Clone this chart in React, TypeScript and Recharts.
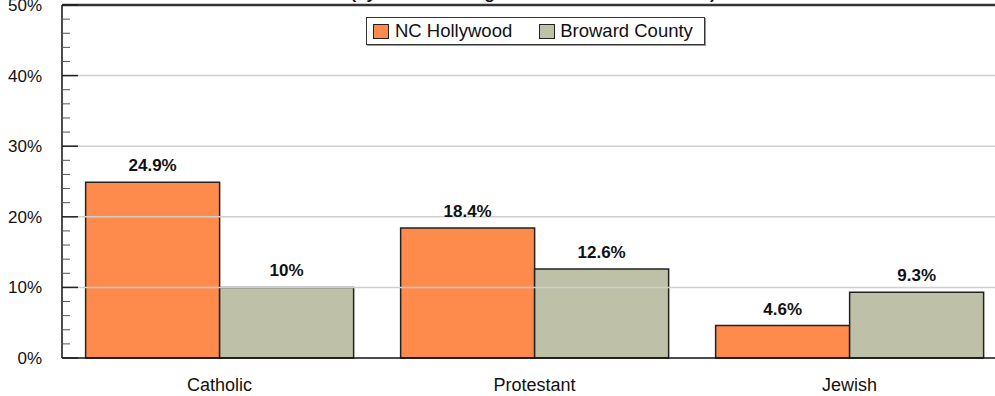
import {
  BarChart,
  Bar,
  XAxis,
  YAxis,
  ReferenceLine,
  LabelList,
} from "recharts";

const categories = ["Catholic", "Protestant", "Jewish"];
const ncHollywood = [24.9, 18.4, 4.6];
const browardCounty = [10, 12.6, 9.3];
const seriesNames = ["NC Hollywood", "Broward County"];
const majorTicks = [0, 10, 20, 30, 40, 50];
const allTicks = [0, 2, 4, 6, 8, 10, 12, 14, 16, 18, 20, 22, 24, 26, 28, 30, 32, 34, 36, 38, 40, 42, 44, 46, 48, 50];
const title = "(by Share of Religious Adherents in the Area)";

const ORANGE = "#fe8a4c";
const GRAY = "#bfc0a8";
const FONT = "'Liberation Sans', Arial, sans-serif";

const chartData = categories.map((name, i) => ({
  name,
  nc: ncHollywood[i],
  broward: browardCounty[i],
}));

// y ticks drawn inwards: long ones at every 10%, short ones every 2%
const YTick = (props: any) => {
  const { x, y, payload } = props;
  const isMajor = majorTicks.includes(payload.value);
  return (
    <g>
      <line
        x1={x}
        x2={x + (isMajor ? 16 : 8)}
        y1={y}
        y2={y}
        stroke={isMajor ? "#222" : "#555"}
        strokeWidth={isMajor ? 1.5 : 1}
      />
      {isMajor && (
        <text x={x - 20} y={y} dy="0.35em" textAnchor="end" fontSize={17} fill="#111" fontFamily={FONT}>
          {payload.value}%
        </text>
      )}
    </g>
  );
};

const LegendBox = () => (
  <div
    style={{
      position: "absolute",
      top: 17,
      left: 366,
      display: "flex",
      alignItems: "center",
      height: 26,
      border: "1px solid #333",
      background: "#fff",
      padding: "0 11px 0 6px",
      fontFamily: FONT,
      fontSize: 18.5,
      color: "#111",
      boxShadow: "1px 1px 0 #999",
      whiteSpace: "nowrap",
    }}
  >
    {seriesNames.map((s, i) => (
      <span key={s} style={{ display: "flex", alignItems: "center", marginRight: i === 0 ? 27 : 0 }}>
        <span
          style={{
            width: 14,
            height: 13,
            background: i === 0 ? ORANGE : GRAY,
            border: "1.5px solid #222",
            marginRight: i === 0 ? 6 : 5,
            display: "inline-block",
          }}
        />
        {s}
      </span>
    ))}
  </div>
);

export default function App() {
  return (
    <div
      style={{
        position: "fixed",
        left: 0,
        top: 0,
        width: 995,
        height: 396,
        overflow: "hidden",
        background: "#fff",
      }}
    >
      <div
        style={{
          position: "absolute",
          top: -16,
          left: 0,
          width: 1066,
          textAlign: "center",
          fontFamily: FONT,
          fontSize: 17,
          fontWeight: "bold",
          color: "#111",
        }}
      >
        {title}
      </div>
      <BarChart
        width={1010}
        height={396}
        data={chartData}
        margin={{ top: 5, right: 3, bottom: 0, left: 0 }}
        barGap={0}
        barCategoryGap="7.5%"
      >
        <XAxis
          dataKey="name"
          height={38}
          tickLine={false}
          tickSize={0}
          tickMargin={20}
          axisLine={{ stroke: "#111", strokeWidth: 1.5 }}
          tick={{ fontSize: 18, fill: "#111", fontFamily: FONT }}
        />
        <YAxis
          width={62}
          domain={[0, 50]}
          ticks={allTicks}
          interval={0}
          tickLine={false}
          tickSize={0}
          tickMargin={0}
          axisLine={{ stroke: "#111", strokeWidth: 1.5 }}
          tick={<YTick />}
        />
        {[10, 20, 30, 40].map((v) => (
          <ReferenceLine key={v} y={v} stroke="#cfcfcf" strokeWidth={1.5} />
        ))}
        <ReferenceLine y={50} stroke="#333" strokeWidth={2.5} />
        <Bar dataKey="nc" name={seriesNames[0]} fill={ORANGE} stroke="#222" strokeWidth={1.5} isAnimationActive={false}>
          <LabelList
            dataKey="nc"
            position="top"
            offset={11}
            formatter={(v: any) => `${v}%`}
            style={{ fontSize: 17, fontWeight: "bold", fill: "#111", fontFamily: FONT }}
          />
        </Bar>
        <Bar dataKey="broward" name={seriesNames[1]} fill={GRAY} stroke="#222" strokeWidth={1.5} isAnimationActive={false}>
          <LabelList
            dataKey="broward"
            position="top"
            offset={11}
            formatter={(v: any) => `${v}%`}
            style={{ fontSize: 17, fontWeight: "bold", fill: "#111", fontFamily: FONT }}
          />
        </Bar>
      </BarChart>
      <LegendBox />
    </div>
  );
}
